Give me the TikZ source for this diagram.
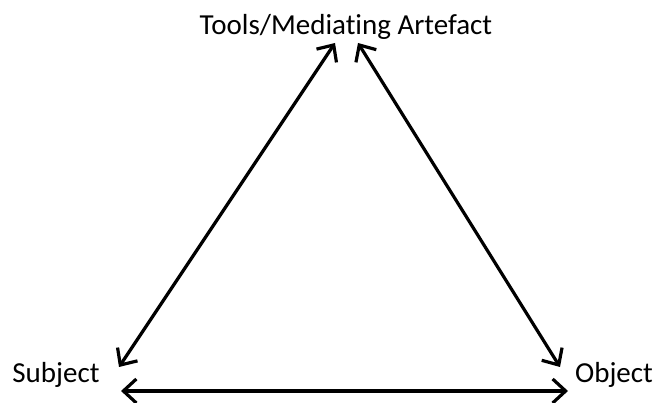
\documentclass[tikz,border=0pt]{standalone}
\usepackage{fontspec}
\setmainfont[Ligatures=NoCommon]{Carlito}
\usetikzlibrary{arrows.meta}
\begin{document}
\begin{tikzpicture}[x=1pt,y=1pt,
  lbl/.style={inner sep=0pt, anchor=base, font=\fontsize{29}{34}\selectfont},
  tip/.style={Straight Barb[length=13pt,width=24pt,line width=3.2pt]},
  conn/.style={line width=3.2pt, {Straight Barb[length=13pt,width=24pt,line width=3.2pt]}-{Straight Barb[length=13pt,width=24pt,line width=3.2pt]}}]
\useasboundingbox (0,0) rectangle (657,403);
\node[lbl] (tools) at (346,368) {Tools/Mediating Artefact};
\node[lbl] (subj) at (56,20) {Subject};
\node[lbl] (obj) at (614,20) {Object};
\coordinate (tl) at (335,360);
\coordinate (tr) at (358,360);
\coordinate (sl) at (119,36);
\coordinate (or) at (560,36);
\coordinate (bl) at (121,12);
\coordinate (br) at (568,12);
\draw[conn] (tl) -- (sl);
\draw[conn] (tr) -- (or);
\draw[conn] (bl) -- (br);
\end{tikzpicture}
\end{document}
